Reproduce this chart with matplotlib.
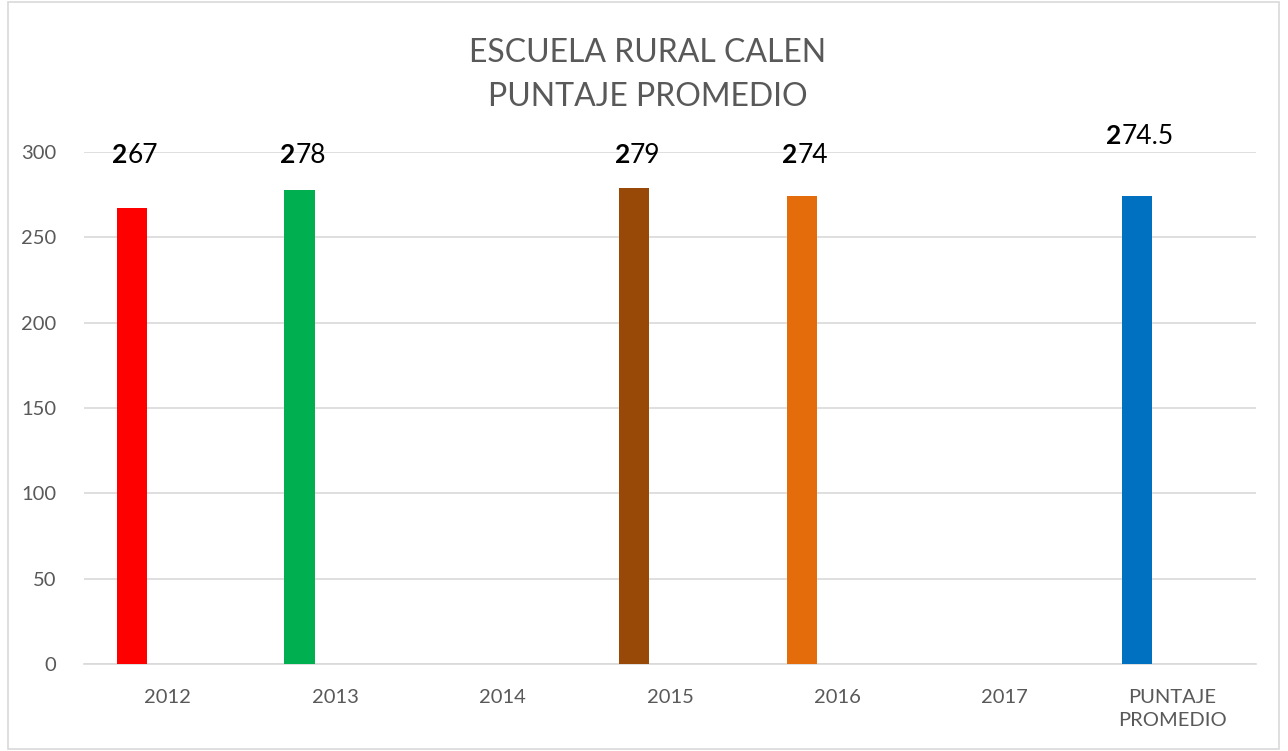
import matplotlib.pyplot as plt
from matplotlib.offsetbox import TextArea, HPacker, AnnotationBbox
from matplotlib.patches import Rectangle
import numpy as np

plt.rcParams['font.family'] = ['Lato', 'DejaVu Sans']

categories = ['2012', '2013', '2014', '2015', '2016', '2017', 'PUNTAJE\nPROMEDIO']
values = [267, 278, np.nan, 279, 274, np.nan, 274.5]
labels = ['267', '278', None, '279', '274', None, '274.5']
colors = ['#FF0000', '#00B050', '#FFFFFF', '#984807', '#E46C0A', '#FFFFFF', '#0070C0']

fig = plt.figure(figsize=(12.88, 7.51), dpi=100)
fig.patches.append(Rectangle((0.006, 0.002), 0.987, 0.996, transform=fig.transFigure,
                             fill=False, edgecolor='#D9D9D9', linewidth=1.2))
ax = fig.add_axes([84 / 1288, 87 / 751, 1172 / 1288, 512 / 751])

x = np.arange(len(categories))
offset = -0.213
ax.bar(x + offset, values, width=0.18, color=colors, zorder=3)

for xi, v, lab in zip(x, values, labels):
    if lab is None:
        continue
    ypos = 309 if xi == len(categories) - 1 else 298
    parts = HPacker(children=[
        TextArea(lab[0], textprops=dict(fontsize=19, fontweight='bold', color='black')),
        TextArea(lab[1:], textprops=dict(fontsize=19, color='black')),
    ], sep=0, pad=0, align='baseline')
    ab = AnnotationBbox(parts, (xi + offset + 0.02, ypos), frameon=False,
                        box_alignment=(0.5, 0.5), annotation_clip=False, zorder=5)
    ax.add_artist(ab)

ax.set_xlim(-0.5, len(categories) - 0.5)
ax.set_ylim(0, 300)
ax.set_yticks(np.arange(0, 301, 50))
ax.set_xticks(x)
ax.set_xticklabels(categories, linespacing=1.45)
ax.tick_params(axis='both', length=0, labelsize=14.5, labelcolor='#595959')
ax.tick_params(axis='y', pad=20)
ax.tick_params(axis='x', pad=18)
ax.grid(axis='y', color='#D9D9D9', linewidth=1.2, zorder=0)
for s in ['top', 'right', 'left']:
    ax.spines[s].set_visible(False)
ax.spines['bottom'].set_color('#D9D9D9')
ax.spines['bottom'].set_linewidth(1.2)

fig.text(0.503, 0.900, 'ESCUELA RURAL CALEN\nPUNTAJE PROMEDIO', ha='center', va='center',
         fontsize=23, color='#595959', linespacing=1.55)

plt.savefig('out.png', dpi=100)
